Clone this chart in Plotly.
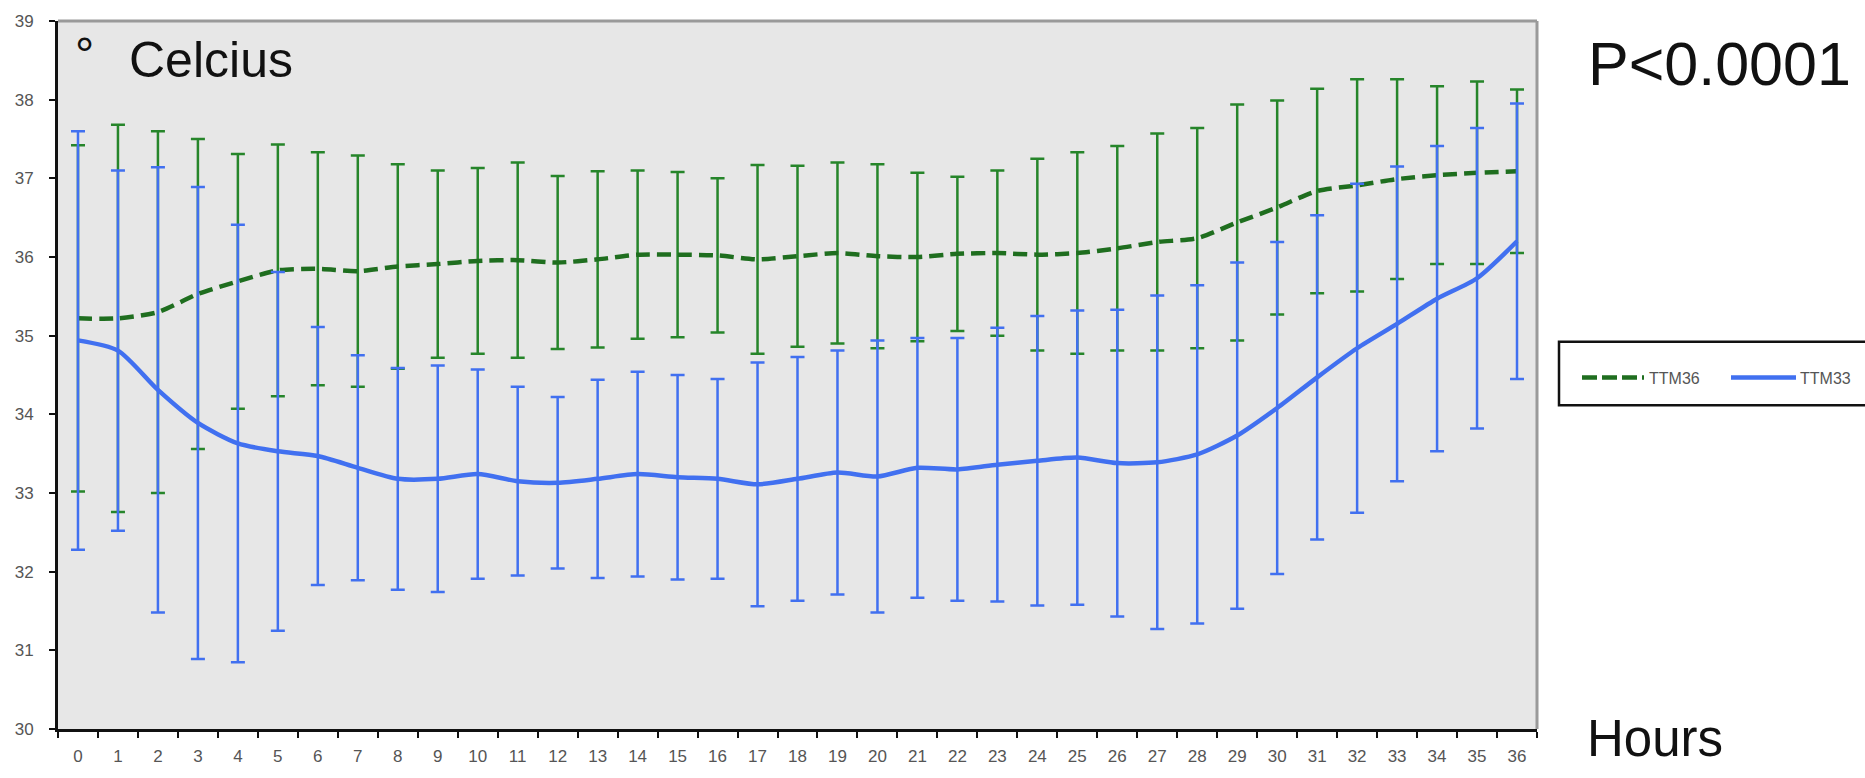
import plotly.graph_objects as go

# Hours since start of cooling
hours = [str(h) for h in range(37)]

# TTM36 group: mean temperature and SD (°C)
ttm36_mean = [35.22, 35.22, 35.30, 35.53, 35.69, 35.83, 35.85, 35.82, 35.88, 35.91,
              35.95, 35.96, 35.93, 35.97, 36.03, 36.03, 36.02, 35.97, 36.01, 36.05,
              36.01, 36.00, 36.04, 36.05, 36.03, 36.05, 36.11, 36.19, 36.24, 36.44,
              36.63, 36.84, 36.91, 36.99, 37.04, 37.07, 37.09]
ttm36_sd = [2.20, 2.46, 2.30, 1.97, 1.62, 1.60, 1.48, 1.47, 1.30, 1.19,
            1.18, 1.24, 1.10, 1.12, 1.07, 1.05, 0.98, 1.20, 1.15, 1.15,
            1.17, 1.07, 0.98, 1.05, 1.22, 1.28, 1.30, 1.38, 1.40, 1.50,
            1.36, 1.30, 1.35, 1.27, 1.13, 1.16, 1.04]

# TTM33 group: mean temperature and SD (°C)
ttm33_mean = [34.94, 34.81, 34.31, 33.89, 33.63, 33.53, 33.47, 33.32, 33.18, 33.18,
              33.24, 33.15, 33.13, 33.18, 33.24, 33.20, 33.18, 33.11, 33.18, 33.26,
              33.21, 33.32, 33.30, 33.36, 33.41, 33.45, 33.38, 33.39, 33.49, 33.73,
              34.08, 34.47, 34.84, 35.15, 35.47, 35.73, 36.20]
ttm33_sd = [2.66, 2.29, 2.83, 3.00, 2.78, 2.28, 1.64, 1.43, 1.41, 1.44,
            1.33, 1.20, 1.09, 1.26, 1.30, 1.30, 1.27, 1.55, 1.55, 1.55,
            1.73, 1.65, 1.67, 1.74, 1.84, 1.87, 1.95, 2.12, 2.15, 2.20,
            2.11, 2.06, 2.09, 2.00, 1.94, 1.91, 1.75]

series_names = ["TTM36", "TTM33"]

GREEN_LINE = "#1f6e1f"
GREEN_BAR = "#26852a"
BLUE = "#4170f0"
FONT = "Liberation Sans, Arial, sans-serif"

fig = go.Figure()

fig.add_trace(go.Scatter(
    x=hours, y=ttm36_mean, name=series_names[0], mode="lines",
    line=dict(color=GREEN_LINE, width=4.5, dash="14px,7px", shape="spline", smoothing=0.7),
    error_y=dict(type="data", array=ttm36_sd, color=GREEN_BAR, thickness=2.5, width=7),
    showlegend=False,
))
fig.add_trace(go.Scatter(
    x=hours, y=ttm33_mean, name=series_names[1], mode="lines",
    line=dict(color=BLUE, width=4.5, shape="spline", smoothing=0.7),
    error_y=dict(type="data", array=ttm33_sd, color=BLUE, thickness=2.5, width=7),
    showlegend=False,
))

# paper-coordinate helpers (plot area spans x 58..1537, y 21..732 px)
L, R, T, B = 58, 1537, 21, 732
def px(x):
    return (x - L) / (R - L)
def py(y):
    return (B - y) / (B - T)

shapes = [
    # grey frame on top and right
    dict(type="line", xref="paper", yref="paper", x0=0, x1=1, y0=1, y1=1,
         line=dict(color="#9a9a9a", width=3)),
    dict(type="line", xref="paper", yref="paper", x0=1, x1=1, y0=0, y1=1,
         line=dict(color="#9a9a9a", width=3)),
    # legend box
    dict(type="rect", xref="paper", yref="paper", x0=px(1559), x1=px(1880),
         y0=py(407), y1=py(343), line=dict(color="#111111", width=2.5),
         fillcolor="white"),
    dict(type="line", xref="paper", yref="paper", x0=px(1582), x1=px(1644),
         y0=py(379), y1=py(379), line=dict(color=GREEN_LINE, width=4.5, dash="15px,5px")),
    dict(type="line", xref="paper", yref="paper", x0=px(1731), x1=px(1796),
         y0=py(379), y1=py(379), line=dict(color=BLUE, width=4.5)),
]

annotations = [
    dict(text="°", xref="paper", yref="paper", x=px(84), y=py(55),
         xanchor="center", yanchor="middle", showarrow=False,
         font=dict(family=FONT, size=48, color="#111111")),
    dict(text="Celcius", xref="paper", yref="paper", x=px(127), y=py(60),
         xanchor="left", yanchor="middle", showarrow=False,
         font=dict(family=FONT, size=50, color="#111111")),
    dict(text="P<0.0001", xref="paper", yref="paper", x=px(1586), y=py(64),
         xanchor="left", yanchor="middle", showarrow=False,
         font=dict(family=FONT, size=61, color="#111111")),
    dict(text="Hours", xref="paper", yref="paper", x=px(1585), y=py(742),
         xanchor="left", yanchor="middle", showarrow=False,
         font=dict(family=FONT, size=51, color="#111111")),
    dict(text=series_names[0], xref="paper", yref="paper", x=px(1647), y=py(380),
         xanchor="left", yanchor="middle", showarrow=False,
         font=dict(family=FONT, size=16, color="#555555")),
    dict(text=series_names[1], xref="paper", yref="paper", x=px(1798), y=py(380),
         xanchor="left", yanchor="middle", showarrow=False,
         font=dict(family=FONT, size=16, color="#555555")),
]

fig.update_layout(
    width=1865, height=778,
    margin=dict(l=L, r=1865 - R, t=T, b=778 - B, pad=0),
    paper_bgcolor="white", plot_bgcolor="#e7e7e7",
    shapes=shapes, annotations=annotations,
    showlegend=False,
    font=dict(family=FONT),
)
fig.update_xaxes(
    type="category", tickson="boundaries", range=[-0.5, 36.5],
    ticks="outside", ticklen=6, tickwidth=2, tickcolor="#111111",
    showline=True, linecolor="#111111", linewidth=3,
    showgrid=False, zeroline=False,
    tickfont=dict(family=FONT, size=17, color="#555555"),
    ticklabelstandoff=10,
)
fig.update_yaxes(
    range=[30, 39], dtick=1, tick0=30,
    ticks="outside", ticklen=6, tickwidth=2, tickcolor="#111111",
    showline=True, linecolor="#111111", linewidth=3,
    showgrid=False, zeroline=False,
    tickfont=dict(family=FONT, size=17, color="#555555"),
    ticklabelstandoff=12,
)

fig.write_html("out.html")
